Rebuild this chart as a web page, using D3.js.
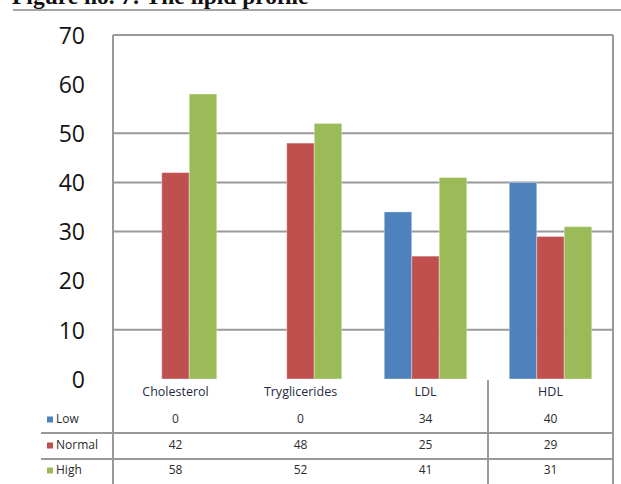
<!DOCTYPE html>
<html>
<head>
<meta charset="utf-8">
<script src="https://cdn.jsdelivr.net/npm/d3@7/dist/d3.min.js"></script>
<style>
  html, body { margin: 0; padding: 0; background: #fff; }
  svg { display: block; }
</style>
</head>
<body>
<svg id="chart" width="621" height="484"></svg>
<script>
// Lipid profile: share of subjects (%) in each level, per lipid parameter
const categories = ["Cholesterol", "Tryglicerides", "LDL", "HDL"];
const seriesNames = ["Low", "Normal", "High"];
const lowValues = [0, 0, 34, 40];
const normalValues = [42, 48, 25, 29];
const highValues = [58, 52, 41, 31];
const yTickLabels = [0, 10, 20, 30, 40, 50, 60, 70];
const gridTicks = [10, 30, 40, 50];
const seriesColors = ["#4f81bd", "#c0504d", "#9bbb59"];

const seriesValues = [lowValues, normalValues, highValues];

const svg = d3.select("#chart");
const plotLeft = 113, plotRight = 613, plotTop = 35, plotBottom = 379, tableBottom = 484;

const x0 = d3.scaleBand().domain(categories).range([plotLeft, plotRight])
  .paddingInner(0.34).paddingOuter(0.17);
const x1 = d3.scaleBand().domain(seriesNames).range([0, x0.bandwidth()]);
const xCat = d3.scaleBand().domain(categories).range([plotLeft, plotRight]);
const y = d3.scaleLinear().domain([0, 70]).range([plotBottom, plotTop]);

// Title (running off the top of the page) and the rule under it
svg.append("text")
  .attr("x", 12).attr("y", 4)
  .attr("font-family", "Liberation Serif, serif")
  .attr("font-weight", "bold")
  .attr("font-size", 23.5)
  .attr("fill", "#111")
  .text("Figure no. 7: The lipid profile");
svg.append("line")
  .attr("x1", 13).attr("x2", 621).attr("y1", 10).attr("y2", 10)
  .attr("stroke", "#a6a6a6").attr("stroke-width", 2);

// Horizontal gridlines
svg.append("g").selectAll("line").data(gridTicks).join("line")
  .attr("x1", plotLeft).attr("x2", plotRight)
  .attr("y1", d => y(d)).attr("y2", d => y(d))
  .attr("stroke", "#9a9a9a").attr("stroke-width", 2);

// Plot frame: top edge, left and right edges (extending through the table)
svg.append("line").attr("x1", plotLeft).attr("x2", plotRight).attr("y1", y(70)).attr("y2", y(70))
  .attr("stroke", "#9a9a9a").attr("stroke-width", 2);
svg.append("line").attr("x1", plotLeft).attr("x2", plotLeft).attr("y1", y(70)).attr("y2", tableBottom)
  .attr("stroke", "#9a9a9a").attr("stroke-width", 2);
svg.append("line").attr("x1", plotRight).attr("x2", plotRight).attr("y1", y(70)).attr("y2", tableBottom)
  .attr("stroke", "#9a9a9a").attr("stroke-width", 2);

// Y axis tick labels
const yAxis = d3.axisLeft(y).tickValues(yTickLabels).tickSize(0).tickPadding(0);
const yG = svg.append("g").attr("transform", `translate(${plotLeft - 28},0)`).call(yAxis);
yG.select(".domain").remove();
yG.selectAll("text")
  .attr("font-family", "Open Sans, sans-serif")
  .attr("font-size", 23)
  .attr("fill", "#141414")
  .attr("dy", "0.36em");

// Bars
const groups = svg.append("g").selectAll("g").data(categories).join("g")
  .attr("transform", d => `translate(${x0(d)},0)`);
groups.selectAll("rect")
  .data((c, i) => seriesNames.map((s, k) => ({ s, k, v: seriesValues[k][i] })))
  .join("rect")
  .attr("x", d => x1(d.s))
  .attr("width", x1.bandwidth())
  .attr("y", d => y(d.v))
  .attr("height", d => y(0) - y(d.v))
  .attr("fill", d => seriesColors[d.k])
  .attr("stroke", "#ffffff").attr("stroke-opacity", 0.35).attr("stroke-width", 1);

// Data table under the plot
const tableFont = "Open Sans, sans-serif";
const rowY = [420, 446, 471];

svg.append("g").selectAll("text").data(categories).join("text")
  .attr("x", d => xCat(d) + xCat.bandwidth() / 2)
  .attr("y", 393)
  .attr("text-anchor", "middle")
  .attr("dominant-baseline", "middle")
  .attr("font-family", tableFont).attr("font-size", 12.5)
  .attr("fill", "#1f2a44")
  .text(d => d);

// Row separators and the HDL column divider
svg.append("g").selectAll("line").data([433, 459]).join("line")
  .attr("x1", 41).attr("x2", plotRight)
  .attr("y1", d => d).attr("y2", d => d)
  .attr("stroke", "#9a9a9a").attr("stroke-width", 2);
svg.append("line")
  .attr("x1", xCat("HDL")).attr("x2", xCat("HDL"))
  .attr("y1", 380).attr("y2", tableBottom)
  .attr("stroke", "#9a9a9a").attr("stroke-width", 2);

seriesNames.forEach((s, k) => {
  svg.append("rect")
    .attr("x", 47).attr("y", rowY[k] - 3.5)
    .attr("width", 6).attr("height", 6)
    .attr("fill", seriesColors[k]);
  svg.append("text")
    .attr("x", 56).attr("y", rowY[k])
    .attr("dominant-baseline", "middle")
    .attr("font-family", tableFont).attr("font-size", 12)
    .attr("fill", "#2b2b2b")
    .text(s);
  svg.append("g").selectAll("text").data(categories).join("text")
    .attr("x", d => xCat(d) + xCat.bandwidth() / 2)
    .attr("y", rowY[k])
    .attr("text-anchor", "middle")
    .attr("dominant-baseline", "middle")
    .attr("font-family", tableFont).attr("font-size", 12)
    .attr("fill", "#2b2b2b")
    .text((d, i) => seriesValues[k][i]);
});
</script>
</body>
</html>
